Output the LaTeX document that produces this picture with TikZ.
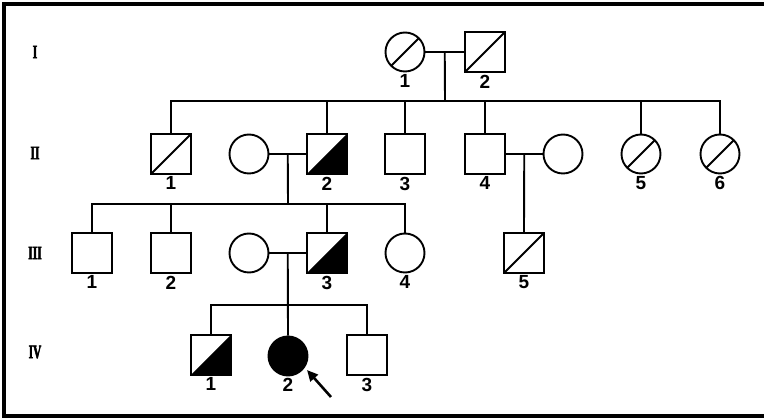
\documentclass[tikz,border=0pt]{standalone}
\usepackage{fontspec}
\setsansfont{Liberation Sans}
\newfontfamily\genfont[FakeStretch=0.6,FakeBold=2.5,UprightFont={* Bold}]{Liberation Serif}
\usetikzlibrary{calc,arrows.meta}
\tikzset{
    male/.style={draw,rectangle,minimum size=40,inner sep=0},
    female/.style={draw,circle,minimum size=39,inner sep=0},
    num/.style={label distance=4,
        label={[font=\sffamily\bfseries\fontsize{19}{19}\selectfont,inner sep=1]below:#1}},
    deceased/.style={path picture={
        \draw[line width=1.8] (path picture bounding box.south west) -- (path picture bounding box.north east);}},
    carrier/.style={path picture={
        \fill (path picture bounding box.south west) -- (path picture bounding box.north east)
            -- (path picture bounding box.south east) -- cycle;}},
    affected/.style={fill=black},
    gen/.style={font=\genfont\fontsize{19}{19}\selectfont,inner sep=0},
    >={Triangle[length=11,width=10]},
}

\begin{document}
\begin{tikzpicture}[x=1pt,y=-1pt,line width=1.9]
		\useasboundingbox (0,0) rectangle (764,419);
		\draw[line width=3.5] (764,4) -- (4,4) -- (4,416) -- (764,416);
		\foreach \g/\y in {I/52,II/153,III/253,IV/352}
		\node[gen] (gen\g) at (35,\y) {\g};

		% generation I
		\node[female,deceased,num=1] (I1) at (405,52) {};
		\node[male,deceased,num=2] (I2) at (485,52) {};
		% generation II
		\node[male,deceased,num=1] (II1) at (171,154) {};
		\node[female] (IIw) at (249,154) {};
		\node[male,carrier,num=2] (II2) at (327,154) {};
		\node[male,num=3] (II3) at (405,154) {};
		\node[male,num=4] (II4) at (485,154) {};
		\node[female] (IIv) at (563,154) {};
		\node[female,deceased,num=5] (II5) at (641,154) {};
		\node[female,deceased,num=6] (II6) at (720,154) {};
		% generation III
		\node[male,num=1] (III1) at (92,253) {};
		\node[male,num=2] (III2) at (171,253) {};
		\node[female] (IIIw) at (249,253) {};
		\node[male,carrier,num=3] (III3) at (327,253) {};
		\node[female,num=4] (III4) at (405,253) {};
		\node[male,deceased,num=5] (III5) at (524,253) {};
		% generation IV
		\node[male,carrier,num=1] (IV1) at (211,355) {};
		\node[female,affected,num=2] (IV2) at (288,356) {};
		\node[male,num=3] (IV3) at (367,355) {};

		% marriages and sibships
		\draw (I1) -- (I2);
		\coordinate (m1) at ($(I1.east)!.5!(I2.west)$);
		\coordinate (s1) at (445,101);
		\draw (m1) -- (s1);
		\draw (II1.north) |- (s1) -| (II6.north);
		\foreach \n in {II2,II3,II4,II5}
		\draw (\n.north) -- (\n.north |- s1);

		\draw (IIw) -- (II2);
		\coordinate (m2) at ($(IIw.east)!.5!(II2.west)$);
		\coordinate (s2) at (288,204);
		\draw (m2) -- (s2);
		\draw (III1.north) |- (s2) -| (III4.north);
		\foreach \n in {III2,III3}
		\draw (\n.north) -- (\n.north |- s2);

		\draw (II4) -- (IIv);
		\coordinate (m4) at ($(II4.east)!.5!(IIv.west)$);
		\draw (m4) -- (III5.north);

		\draw (IIIw) -- (III3);
		\coordinate (m3) at ($(IIIw.east)!.5!(III3.west)$);
		\coordinate (s3) at (288,305);
		\draw (m3) -- (IV2.north);
		\draw (IV1.north) |- (s3) -| (IV3.north);

		% proband
		\coordinate (ptail) at (331,397);
		\coordinate (phead) at (307,370);
		\draw[->,line width=2.6] (ptail) -- (phead);
	\end{tikzpicture}
\end{document}
